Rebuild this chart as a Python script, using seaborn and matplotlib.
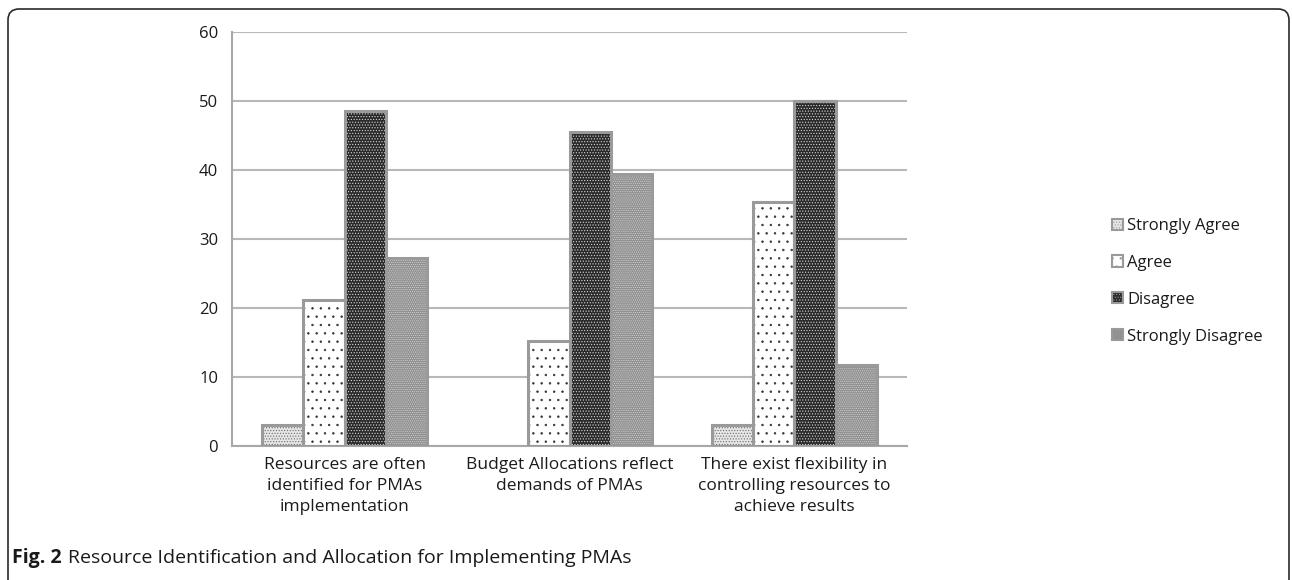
import matplotlib
matplotlib.use("Agg")
import matplotlib.pyplot as plt
from matplotlib.patches import Rectangle, FancyBboxPatch
from matplotlib.transforms import IdentityTransform
import pandas as pd
import seaborn as sns

categories = [
    "Resources are often\nidentified for PMAs\nimplementation",
    "Budget Allocations reflect\ndemands of PMAs",
    "There exist flexibility in\ncontrolling resources to\nachieve results",
]
responses = ["Strongly Agree", "Agree", "Disagree", "Strongly Disagree"]
strongly_agree = [3.0, 0.0, 3.0]
agree = [21.2, 15.2, 35.3]
disagree = [48.5, 45.5, 50.0]
strongly_disagree = [27.3, 39.4, 11.8]

# fill, hatch, hatch colour per response
styles = {
    "Strongly Agree": ("#e6e6e6", "......", "#6a6a6a"),
    "Agree": ("white", "..", "#333333"),
    "Disagree": ("#2a2a2a", "......", "#d8d8d8"),
    "Strongly Disagree": ("#909090", "........", "#d4d4d4"),
}
border = "#9a9a9a"

rows = []
for resp, vals in zip(responses, [strongly_agree, agree, disagree, strongly_disagree]):
    for cat, v in zip(categories, vals):
        rows.append({"category": cat, "response": resp, "value": v})
df = pd.DataFrame(rows)

sns.set_style("white")
plt.rcParams["font.family"] = ["Open Sans", "DejaVu Sans"]
plt.rcParams["hatch.linewidth"] = 0.5

fig = plt.figure(figsize=(12.92, 5.8), dpi=100)
ax = fig.add_axes([0.1796, 0.231, 0.5224, 0.7138])

sns.barplot(data=df, x="category", y="value", hue="response", hue_order=responses,
            order=categories, width=0.73, ax=ax, legend=False, errorbar=None)

for resp, cont in zip(responses, ax.containers):
    fc, hatch, hc = styles[resp]
    for p in cont:
        p.set_facecolor(fc)
        p.set_edgecolor(hc)
        p.set_linewidth(0)
        p.set_hatch(hatch)
        p.set_zorder(2)
        if p.get_height() > 0:
            ax.add_patch(Rectangle(p.get_xy(), p.get_width(), p.get_height(),
                                   facecolor="none", edgecolor=border, linewidth=2.2, zorder=3))

ax.set_ylim(0, 60)
ax.set_xlim(-0.5, 2.5)
ax.set_yticks(range(0, 61, 10))
ax.yaxis.grid(True, color="#b8b8b8", linewidth=1.5)
ax.set_axisbelow(True)
ax.set_xlabel("")
ax.set_ylabel("")
for s in ["top", "right"]:
    ax.spines[s].set_visible(False)
for s in ["left", "bottom"]:
    ax.spines[s].set_color("#a8a8a8")
    ax.spines[s].set_linewidth(1.5)
ax.tick_params(axis="y", length=6, width=1.5, color="#a8a8a8", labelsize=12, labelcolor="#1a1a1a", pad=4)
ax.tick_params(axis="x", which="major", length=0, labelsize=12.5, labelcolor="#1a1a1a", pad=8)
ax.set_xticks([-0.5, 0.5, 1.5, 2.5], minor=True)
ax.tick_params(axis="x", which="minor", length=8, width=1.5, color="#a8a8a8")
for t in ax.get_xticklabels():
    t.set_linespacing(1.4)

handles = []
for resp in responses:
    fc, hatch, hc = styles[resp]
    handles.append(Rectangle((0, 0), 1, 1, facecolor=fc, edgecolor=border, hatch=hatch, linewidth=1.5))
fig.legend(handles, responses, loc="center left", bbox_to_anchor=(0.849, 0.515),
           frameon=False, fontsize=12, handlelength=0.65, handleheight=0.65,
           handletextpad=0.25, labelspacing=1.25, labelcolor="#1a1a1a")

# outer frame, drawn in pixel units
frame = FancyBboxPatch((8, -60), 1281, 580 - 9 + 60,
                       boxstyle="round,pad=0,rounding_size=11", transform=IdentityTransform(),
                       facecolor="none", edgecolor="#2a2a2a", linewidth=1.2, clip_on=False)
fig.patches.append(frame)

# caption
t1 = fig.text(12 / 1292, 1 - 558 / 580, "Fig. 2", fontsize=14, fontweight="bold",
              va="center", ha="left", color="#1a1a1a")
fig.canvas.draw()
bb = t1.get_window_extent()
fig.text((bb.x1 + 6) / 1292, 1 - 558 / 580, "Resource Identification and Allocation for Implementing PMAs",
         fontsize=14, va="center", ha="left", color="#1a1a1a")

fig.savefig("out.png", dpi=100)
